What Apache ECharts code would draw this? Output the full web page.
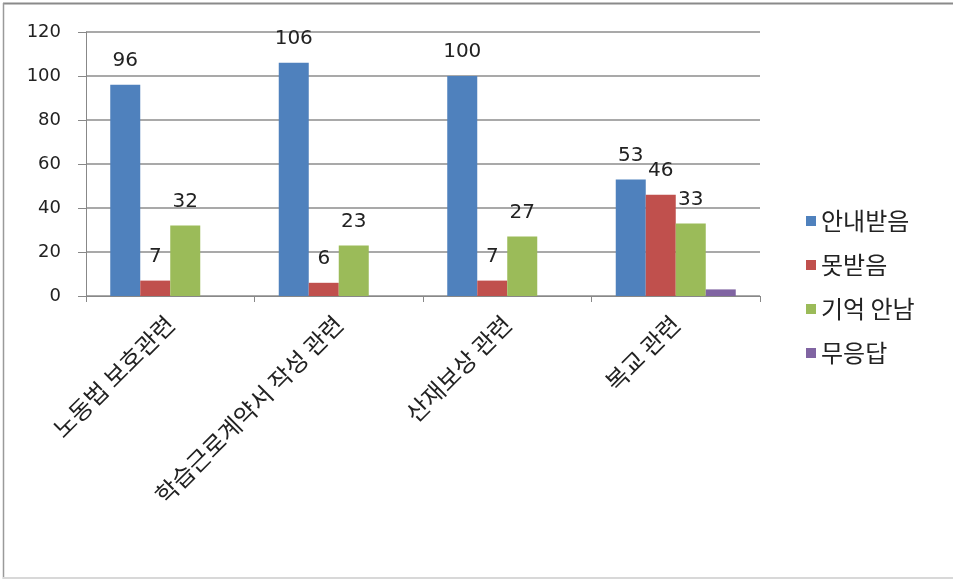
<!DOCTYPE html>
<html>
<head>
<meta charset="utf-8">
<script src="https://cdn.jsdelivr.net/npm/echarts@6/dist/echarts.min.js"></script>
<style>
  html, body { margin: 0; padding: 0; background: #fff; }
  #chart { width: 953px; height: 579px; }
</style>
</head>
<body>
<div id="chart"></div>
<script>
// Survey results: whether students were informed about each topic
const categories = ['노동법 보호관련', '학습근로계약서 작성 관련', '산재보상 관련', '복교 관련'];
const informed = [96, 106, 100, 53];      // 안내받음
const notInformed = [7, 6, 7, 46];        // 못받음
const dontRemember = [32, 23, 27, 33];    // 기억 안남
const noAnswer = [0, 0, 0, 3];            // 무응답
const seriesNames = ['안내받음', '못받음', '기억 안남', '무응답'];
const yTicks = { min: 0, max: 120, interval: 20 };

const FONT = '"Noto Sans CJK KR", "Noto Sans", sans-serif';
const NUM_FONT = '"DejaVu Sans", sans-serif';
const colors = ['#4F81BD', '#C0504D', '#9BBB59', '#8064A2'];

const chart = echarts.init(document.getElementById('chart'), null, { renderer: 'canvas' });

function barSeries(name, data, withLabel) {
  return {
    name: name,
    type: 'bar',
    data: data,
    barWidth: 30,
    barGap: '0%',
    label: {
      show: withLabel,
      position: 'top',
      distance: 14,
      fontFamily: NUM_FONT,
      fontSize: 20,
      color: '#222'
    }
  };
}

chart.setOption({
  backgroundColor: '#fff',
  color: colors,
  animation: false,
  textStyle: { fontFamily: FONT },
  grid: { left: 86, right: 193, top: 32, bottom: 283, containLabel: false },
  legend: {
    orient: 'vertical',
    left: 801,
    top: 204,
    icon: 'rect',
    itemWidth: 10,
    itemHeight: 10,
    itemGap: 20,
    data: seriesNames,
    textStyle: { fontFamily: FONT, fontSize: 24, lineHeight: 24, color: '#222', padding: [0, 0, 0, 0] }
  },
  xAxis: {
    type: 'category',
    data: categories,
    axisLine: { lineStyle: { color: '#888', width: 1 } },
    axisTick: { show: true, alignWithLabel: false, length: 6, lineStyle: { color: '#888' } },
    axisLabel: {
      rotate: 45,
      margin: 24,
      interval: 0,
      fontFamily: FONT,
      fontSize: 24,
      color: '#222'
    }
  },
  yAxis: {
    type: 'value',
    min: yTicks.min,
    max: yTicks.max,
    interval: yTicks.interval,
    axisLine: { show: true, lineStyle: { color: '#888', width: 1 } },
    axisTick: { show: true, inside: false, length: 8, lineStyle: { color: '#888' } },
    splitLine: { show: true, lineStyle: { color: '#8c8c8c', width: 1.5 } },
    axisLabel: { fontFamily: NUM_FONT, fontSize: 18, color: '#222', margin: 25 }
  },
  series: [
    barSeries(seriesNames[0], informed, true),
    barSeries(seriesNames[1], notInformed, true),
    barSeries(seriesNames[2], dontRemember, true),
    barSeries(seriesNames[3], noAnswer, false)
  ],
  graphic: [
    // chart frame edges
    { type: 'line', shape: { x1: 3, y1: 3.5, x2: 953, y2: 3.5 }, style: { stroke: '#8a8a8a', lineWidth: 2 } },
    { type: 'line', shape: { x1: 3.5, y1: 3, x2: 3.5, y2: 579 }, style: { stroke: '#9a9a9a', lineWidth: 1.5 } },
    { type: 'line', shape: { x1: 3, y1: 578, x2: 953, y2: 578 }, style: { stroke: '#d8d8d8', lineWidth: 2 } }
  ]
});
</script>
</body>
</html>
